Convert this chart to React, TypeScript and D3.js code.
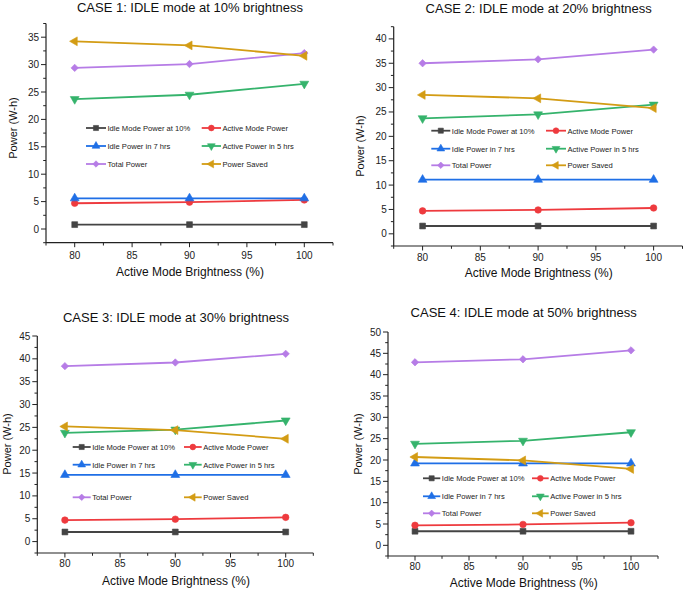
import React from "react";
import * as d3 from "d3";

const caseTitles = [
  "CASE 1: IDLE mode at 10% brightness",
  "CASE 2: IDLE mode at 20% brightness",
  "CASE 3: IDLE mode at 30% brightness",
  "CASE 4: IDLE mode at 50% brightness",
];
const brightness = [80, 90, 100];
const xTicks = [80, 85, 90, 95, 100];
const yMax = [37.5, 42.5, 45, 50];
const yTickMax = [35, 40, 45, 50];

const idleModePower = [
  [0.8, 0.8, 0.8],
  [1.6, 1.6, 1.6],
  [2.1, 2.1, 2.1],
  [3.3, 3.3, 3.3],
];
const activeModePower = [
  [4.7, 4.9, 5.3],
  [4.7, 4.9, 5.3],
  [4.7, 4.9, 5.3],
  [4.7, 4.9, 5.3],
];
const idlePower7h = [
  [5.6, 5.6, 5.6],
  [11.1, 11.1, 11.1],
  [14.6, 14.6, 14.6],
  [19.2, 19.2, 19.2],
];
const activePower5h = [
  [23.7, 24.5, 26.5],
  [23.7, 24.5, 26.5],
  [23.8, 24.5, 26.5],
  [23.8, 24.5, 26.5],
];
const totalPower = [
  [29.4, 30.1, 32.1],
  [35.0, 35.8, 37.8],
  [38.4, 39.2, 41.1],
  [42.9, 43.6, 45.7],
];
const powerSaved = [
  [34.25, 33.5, 31.6],
  [28.5, 27.8, 25.8],
  [25.2, 24.4, 22.5],
  [20.7, 19.9, 17.9],
];

const seriesNames = [
  "Idle Mode Power at 10%",
  "Active Mode Power",
  "Idle Power in 7 hrs",
  "Active Power in 5 hrs",
  "Total Power",
  "Power Saved",
];
const seriesData = [idleModePower, activeModePower, idlePower7h, activePower5h, totalPower, powerSaved];
const seriesColors = ["#444444", "#ee3a3e", "#1f6fe6", "#35b36c", "#b67ce6", "#d39c14"];
// marker: type and rotation
const seriesMarkers: [d3.SymbolType, number][] = [
  [d3.symbolSquare, 0],
  [d3.symbolCircle, 0],
  [d3.symbolTriangle, 0],
  [d3.symbolTriangle, 180],
  [d3.symbolSquare, 45],
  [d3.symbolTriangle, -90],
];

// layout per panel
const layouts = [
  { xr: [46, 333], yr: [242.7, 23.5], title: [190, 11.5], xl: [190, 275.5], xtl: 259, yl: [13, 128],
    leg: { c1: [86, 106], c2: [201.7, 221], rows: [128, 146, 164] } },
  { xr: [393.7, 682.5], yr: [246, 26.7], title: [538.7, 13], xl: [538.7, 277], xtl: 261, yl: [360, 146],
    leg: { c1: [431.3, 450.3], c2: [546, 566], rows: [130.7, 148.7, 165.3] } },
  { xr: [37.3, 313.3], yr: [553, 336], title: [176, 322], xl: [176, 585], xtl: 567, yl: [6.5, 444],
    leg: { c1: [72.7, 90.7], c2: [184, 201.7], rows: [447, 464.7, 497.3] } },
  { xr: [388, 658], yr: [556, 332], title: [523.7, 317], xl: [523.7, 587], xtl: 569.5, yl: [358, 444],
    leg: { c1: [423, 440.3], c2: [532, 548.7], rows: [478.3, 496.3, 513.3] } },
];

const FONT = "'Liberation Sans', Arial, sans-serif";

function Marker({ i, x, y, size }: { i: number; x: number; y: number; size: number }) {
  const [type, rot] = seriesMarkers[i];
  const s = type === d3.symbolSquare && rot === 45 ? size * 0.8 : size;
  const path = d3.symbol().type(type).size(s)() || "";
  return (
    <path d={path} transform={`translate(${x},${y}) rotate(${rot})`} fill={seriesColors[i]} stroke={seriesColors[i]} strokeWidth={0.6} />
  );
}

function Panel({ k }: { k: number }) {
  const L = layouts[k];
  const x = d3.scaleLinear().domain([77.5, 102.5]).range(L.xr);
  const y = d3.scaleLinear().domain([-2.5, yMax[k]]).range(L.yr);
  const line = d3.line<number>().x((_, j) => x(brightness[j])).y((d) => y(d));
  const yMajors = d3.range(0, yTickMax[k] + 0.01, 5);
  const yMinors = d3.range(-2.5, yMax[k] + 0.01, 5);
  const xMinors = d3.range(77.5, 102.51, 5);
  const y0 = L.yr[0];
  const x0 = L.xr[0];
  return (
    <g fontFamily={FONT}>
      <text x={L.title[0]} y={L.title[1]} textAnchor="middle" fontSize={13} fill="#111">{caseTitles[k]}</text>
      {/* axes */}
      <line x1={x0} x2={x0} y1={L.yr[0]} y2={L.yr[1]} stroke="#222" strokeWidth={1.2} />
      <line x1={L.xr[0]} x2={L.xr[1]} y1={y0} y2={y0} stroke="#222" strokeWidth={1.2} />
      {yMajors.map((v) => (
        <g key={"ym" + v}>
          <line x1={x0 - 5} x2={x0} y1={y(v)} y2={y(v)} stroke="#222" strokeWidth={1} />
          <text x={x0 - 7} y={y(v) + 3.5} textAnchor="end" fontSize={10} fill="#222">{v}</text>
        </g>
      ))}
      {yMinors.map((v) => (
        <line key={"yn" + v} x1={x0 - 2.8} x2={x0} y1={y(v)} y2={y(v)} stroke="#222" strokeWidth={1} />
      ))}
      {xTicks.map((v) => (
        <g key={"xm" + v}>
          <line x1={x(v)} x2={x(v)} y1={y0} y2={y0 + 4.5} stroke="#222" strokeWidth={1} />
          <text x={x(v)} y={L.xtl} textAnchor="middle" fontSize={10} fill="#222">{v}</text>
        </g>
      ))}
      {xMinors.map((v) => (
        <line key={"xn" + v} x1={x(v)} x2={x(v)} y1={y0} y2={y0 + 2.8} stroke="#222" strokeWidth={1} />
      ))}
      <text x={L.xl[0]} y={L.xl[1]} textAnchor="middle" fontSize={12} fill="#111">Active Mode Brightness (%)</text>
      <text transform={`translate(${L.yl[0] + 4},${L.yl[1]}) rotate(-90)`} textAnchor="middle" fontSize={11} fill="#111">Power (W-h)</text>
      {/* series */}
      {seriesData.map((sd, i) => (
        <g key={"s" + i}>
          <path d={line(sd[k]) || ""} fill="none" stroke={seriesColors[i]} strokeWidth={1.8} />
          {sd[k].map((v, j) => (
            <Marker key={j} i={i} x={x(brightness[j])} y={y(v)} size={34} />
          ))}
        </g>
      ))}
      {/* legend */}
      {seriesNames.map((name, i) => {
        const col = i % 2 === 0 ? L.leg.c1 : L.leg.c2;
        const ry = L.leg.rows[Math.floor(i / 2)];
        return (
          <g key={"l" + i}>
            <line x1={col[0]} x2={col[1]} y1={ry} y2={ry} stroke={seriesColors[i]} strokeWidth={1.8} />
            <Marker i={i} x={(col[0] + col[1]) / 2} y={ry} size={26} />
            <text x={col[1] + 1.5} y={ry + 2.8} fontSize={7.6} fill="#222">{name}</text>
          </g>
        );
      })}
    </g>
  );
}

export default function App() {
  return (
    <svg width={685} height={592} style={{ position: "absolute", left: 0, top: 0, background: "#fff" }}>
      <rect width={685} height={592} fill="#fff" />
      {[0, 1, 2, 3].map((k) => (
        <Panel key={k} k={k} />
      ))}
    </svg>
  );
}
